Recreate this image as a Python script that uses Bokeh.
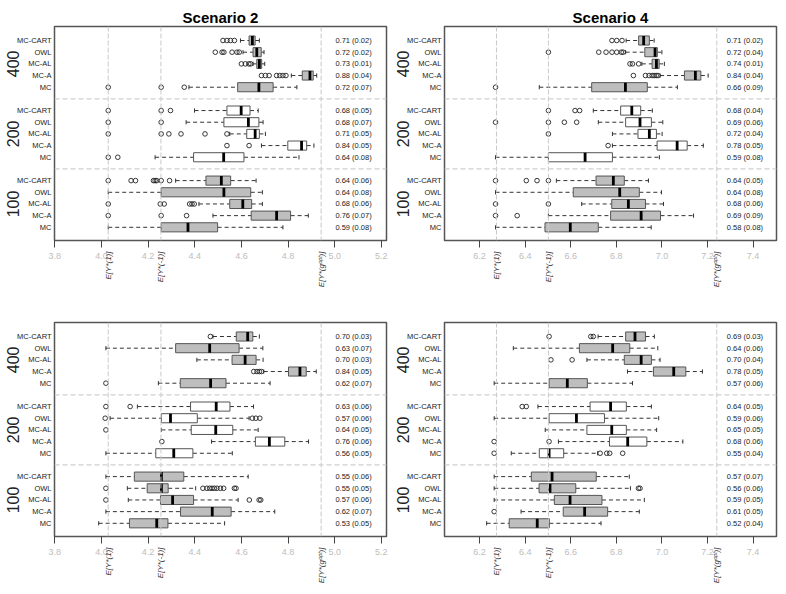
import math
from bokeh.plotting import figure
from bokeh.models import (Range1d, FixedTicker, Span, ColumnDataSource, LinearAxis,
                          PrintfTickFormatter)
from bokeh.layouts import column, row
from bokeh.embed import file_html
from bokeh.resources import INLINE
from bokeh.core.properties import value

FONT = "Liberation Sans"

methods = ["MC-CART", "OWL", "MC-AL", "MC-A", "MC"]
sizes = ["400", "200", "100"]

ticks_s2 = [3.8, 4.0, 4.2, 4.4, 4.6, 4.8, 5.0, 5.2]
ticks_s4 = [6.2, 6.4, 6.6, 6.8, 7.0, 7.2, 7.4]
ref_s2 = [4.029, 4.255, 4.942]
ref_s4 = [6.274, 6.502, 7.241]
ref_names = ["E[Y*(1)]", "E[Y*(-1)]", "E[Y*(g\u1d52\u1d56\u1d57)]"]

# ---- Scenario 2, top panel ----
s2a_lo = [4.596, 4.607, 4.650, 4.814, 4.375,
          4.399, 4.363, 4.550, 4.686, 4.230,
          4.318, 4.029, 4.418, 4.478, 4.029]
s2a_q1 = [4.633, 4.650, 4.666, 4.861, 4.584,
          4.538, 4.525, 4.623, 4.799, 4.395,
          4.448, 4.256, 4.550, 4.642, 4.256]
s2a_med = [4.647, 4.666, 4.677, 4.894, 4.675,
           4.599, 4.630, 4.659, 4.858, 4.524,
           4.514, 4.525, 4.606, 4.751, 4.371]
s2a_q3 = [4.659, 4.685, 4.687, 4.908, 4.736,
          4.637, 4.675, 4.677, 4.880, 4.611,
          4.554, 4.640, 4.644, 4.811, 4.498]
s2a_hi = [4.677, 4.697, 4.700, 4.923, 4.838,
          4.672, 4.693, 4.703, 4.911, 4.847,
          4.663, 4.690, 4.690, 4.887, 4.778]
s2a_out = [[4.521, 4.538, 4.553, 4.570],
           [4.488, 4.517, 4.525, 4.560, 4.581, 4.591],
           [4.600, 4.617, 4.632, 4.640],
           [4.686, 4.703, 4.719, 4.751, 4.765, 4.778, 4.791],
           [4.029, 4.256, 4.355],
           [4.029, 4.256, 4.296],
           [4.029, 4.256],
           [4.029, 4.256, 4.289, 4.341, 4.444, 4.538],
           [4.538, 4.633],
           [4.029, 4.070],
           [4.029, 4.127, 4.146, 4.223, 4.230, 4.237, 4.256, 4.292],
           [],
           [4.029, 4.252, 4.269, 4.378, 4.388, 4.398],
           [4.029, 4.256, 4.365],
           []]
s2a_txt = ["0.71 (0.02)", "0.72 (0.02)", "0.73 (0.01)", "0.88 (0.04)", "0.72 (0.07)",
           "0.68 (0.05)", "0.68 (0.07)", "0.71 (0.05)", "0.84 (0.05)", "0.64 (0.08)",
           "0.64 (0.06)", "0.64 (0.08)", "0.68 (0.06)", "0.76 (0.07)", "0.59 (0.08)"]

# ---- Scenario 4, top panel ----
s4a_lo = [6.843, 6.841, 6.912, 6.992, 6.462,
          6.699, 6.721, 6.783, 6.783, 6.270,
          6.537, 6.270, 6.648, 6.502, 6.270]
s4a_q1 = [6.898, 6.925, 6.957, 7.099, 6.692,
          6.819, 6.841, 6.895, 6.979, 6.502,
          6.711, 6.611, 6.780, 6.775, 6.487]
s4a_med = [6.920, 6.970, 6.976, 7.147, 6.840,
           6.868, 6.904, 6.945, 7.067, 6.663,
           6.787, 6.815, 6.853, 6.909, 6.598]
s4a_q3 = [6.945, 6.980, 6.988, 7.171, 6.936,
          6.907, 6.954, 6.976, 7.111, 6.783,
          6.835, 6.901, 6.928, 6.994, 6.721]
s4a_hi = [6.966, 7.000, 7.011, 7.203, 7.068,
          6.958, 7.004, 7.001, 7.182, 6.989,
          6.941, 6.998, 7.007, 7.139, 6.953]
s4a_out = [[6.781, 6.802, 6.825],
           [6.502, 6.723, 6.755, 6.781, 6.802, 6.822, 6.830],
           [6.860, 6.871, 6.898],
           [6.875, 6.928, 6.944, 6.957, 6.966, 6.975, 6.983],
           [6.270],
           [6.502, 6.619, 6.639],
           [6.270, 6.502, 6.572, 6.626],
           [6.502],
           [6.764],
           [],
           [6.270, 6.405, 6.452, 6.502],
           [],
           [6.270, 6.502],
           [6.270, 6.365],
           []]
s4a_txt = ["0.71 (0.02)", "0.72 (0.04)", "0.74 (0.01)", "0.84 (0.04)", "0.66 (0.09)",
           "0.68 (0.04)", "0.69 (0.06)", "0.72 (0.04)", "0.78 (0.05)", "0.59 (0.08)",
           "0.64 (0.05)", "0.64 (0.08)", "0.68 (0.06)", "0.69 (0.09)", "0.58 (0.08)"]

# ---- Scenario 2, bottom panel ----
s2b_lo = [4.478, 4.019, 4.409, 4.696, 4.244,
          4.154, 4.037, 4.257, 4.472, 4.019,
          4.019, 4.111, 4.115, 4.019, 3.988]
s2b_q1 = [4.578, 4.318, 4.560, 4.802, 4.338,
          4.382, 4.257, 4.385, 4.660, 4.233,
          4.141, 4.196, 4.253, 4.339, 4.120]
s2b_med = [4.627, 4.464, 4.616, 4.851, 4.468,
           4.492, 4.296, 4.490, 4.720, 4.310,
           4.257, 4.257, 4.305, 4.475, 4.237]
s2b_q3 = [4.649, 4.590, 4.663, 4.878, 4.534,
          4.551, 4.411, 4.563, 4.786, 4.392,
          4.353, 4.286, 4.395, 4.556, 4.285]
s2b_hi = [4.677, 4.692, 4.693, 4.921, 4.723,
          4.652, 4.633, 4.672, 4.888, 4.561,
          4.629, 4.404, 4.586, 4.743, 4.528]
s2b_out = [[4.467],
           [],
           [],
           [4.653, 4.667, 4.677, 4.686],
           [4.019],
           [4.019, 4.123],
           [4.016, 4.647, 4.662, 4.679],
           [4.019],
           [4.259],
           [],
           [],
           [4.019, 4.435, 4.452, 4.464, 4.474, 4.484, 4.495, 4.510, 4.524, 4.570, 4.577],
           [4.019, 4.634, 4.676, 4.683],
           [],
           []]
s2b_txt = ["0.70 (0.03)", "0.63 (0.07)", "0.70 (0.03)", "0.84 (0.05)", "0.62 (0.07)",
           "0.63 (0.06)", "0.57 (0.06)", "0.64 (0.05)", "0.76 (0.06)", "0.56 (0.05)",
           "0.55 (0.06)", "0.55 (0.05)", "0.57 (0.06)", "0.62 (0.07)", "0.53 (0.05)"]

# ---- Scenario 4, bottom panel ----
s4b_lo = [6.720, 6.348, 6.671, 6.849, 6.264,
          6.456, 6.264, 6.488, 6.546, 6.339,
          6.264, 6.264, 6.264, 6.382, 6.231]
s4b_q1 = [6.841, 6.638, 6.835, 6.963, 6.505,
          6.685, 6.505, 6.671, 6.770, 6.462,
          6.427, 6.461, 6.528, 6.567, 6.330]
s4b_med = [6.882, 6.784, 6.909, 7.052, 6.585,
           6.775, 6.625, 6.780, 6.850, 6.505,
           6.518, 6.509, 6.597, 6.661, 6.453]
s4b_q3 = [6.928, 6.859, 6.954, 7.105, 6.673,
          6.844, 6.748, 6.844, 6.934, 6.569,
          6.712, 6.622, 6.737, 6.762, 6.506]
s4b_hi = [6.967, 6.982, 6.992, 7.178, 6.871,
          6.954, 6.986, 6.977, 7.092, 6.718,
          6.857, 6.862, 6.923, 6.901, 6.733]
s4b_out = [[6.505, 6.688, 6.699],
           [],
           [6.513, 6.606],
           [],
           [],
           [6.387, 6.405],
           [],
           [],
           [6.264, 6.505],
           [6.264, 6.729, 6.758, 6.771, 6.828],
           [],
           [6.897, 6.904],
           [],
           [6.264],
           []]
s4b_txt = ["0.69 (0.03)", "0.64 (0.06)", "0.70 (0.04)", "0.78 (0.05)", "0.57 (0.06)",
           "0.64 (0.05)", "0.59 (0.06)", "0.65 (0.05)", "0.68 (0.06)", "0.55 (0.04)",
           "0.57 (0.07)", "0.56 (0.06)", "0.59 (0.05)", "0.61 (0.05)", "0.52 (0.04)"]

row_names = [m for s in sizes for m in methods]
row_pos = [17 - 6 * g - m for g in range(3) for m in range(5)]
row_fill = [("white" if s == "200" else "#bebebe") for s in sizes for m in methods]
group_pos = [15, 9, 3]
sep_pos = [12, 6]


def panel(title, xr, ticks, refs, lo, q1, med, q3, hi, out, txt, text_x, top, left):
    bt = 26 if top else 25
    bb = 57
    bl = 54 if left else 53
    br = 5 if left else 10
    p = figure(width=bl + 332 + br, height=bt + 214 + bb,
               x_range=Range1d(*xr), y_range=Range1d(-0.13, 18.2),
               output_backend="svg", toolbar_location=None, title=title,
               min_border_left=bl, min_border_right=br,
               min_border_top=bt, min_border_bottom=bb)
    p.background_fill_color = "white"
    p.border_fill_color = "white"
    p.outline_line_color = "#555555"
    p.outline_line_width = 1.5
    p.xgrid.visible = False
    p.ygrid.visible = False
    if title:
        p.title.align = "center"
        p.title.text_font = FONT
        p.title.text_font_size = "15px"
        p.title.text_font_style = "bold"
        p.title.text_color = "black"
        p.title.standoff = 2

    xa = p.xaxis[0]
    xa.ticker = FixedTicker(ticks=ticks)
    xa.formatter = PrintfTickFormatter(format="%.1f")
    xa.major_label_text_color = "#bdbdbd"
    xa.major_label_text_font = FONT
    xa.major_label_text_font_size = "9px"
    xa.major_tick_out = 7
    xa.major_tick_in = 0
    xa.minor_tick_out = 0
    xa.minor_tick_in = 0
    xa.major_tick_line_color = "#444444"
    xa.minor_tick_line_color = None
    xa.axis_line_color = None
    xa.major_label_standoff = 5

    # reference-value labels (rotated), pulled up next to the numeric axis
    ra = LinearAxis(ticker=FixedTicker(ticks=refs),
                    major_label_overrides={r: n for r, n in zip(refs, ref_names)},
                    major_label_orientation=math.pi / 2)
    ra.major_label_text_font = FONT
    ra.major_label_text_font_style = "italic"
    ra.major_label_text_font_size = "8px"
    ra.major_label_text_color = "#333333"
    ra.major_tick_out = 0
    ra.major_tick_in = 0
    ra.minor_tick_out = 0
    ra.minor_tick_in = 0
    ra.major_tick_line_color = None
    ra.minor_tick_line_color = None
    ra.axis_line_color = None
    ra.major_label_standoff = -10
    p.add_layout(ra, "below")

    ya = p.yaxis[0]
    ya.ticker = FixedTicker(ticks=row_pos)
    ya.major_label_overrides = {pos: name for pos, name in zip(row_pos, row_names)}
    ya.major_label_text_font = FONT
    ya.major_label_text_font_size = "7.5px"
    ya.major_label_text_color = "#222222"
    ya.major_tick_out = 0
    ya.major_tick_in = 0
    ya.minor_tick_out = 0
    ya.minor_tick_in = 0
    ya.major_tick_line_color = None
    ya.minor_tick_line_color = None
    ya.axis_line_color = None
    ya.major_label_standoff = 3

    # sample-size group labels on an outer left axis
    ga = LinearAxis(ticker=FixedTicker(ticks=group_pos),
                    major_label_overrides={g: s for g, s in zip(group_pos, sizes)},
                    major_label_orientation="parallel")
    ga.major_label_text_font = FONT
    ga.major_label_text_font_size = "16px"
    ga.major_label_text_color = "#222222"
    ga.major_tick_out = 0
    ga.major_tick_in = 0
    ga.minor_tick_out = 0
    ga.minor_tick_in = 0
    ga.major_tick_line_color = None
    ga.minor_tick_line_color = None
    ga.axis_line_color = None
    ga.major_label_standoff = -5
    p.add_layout(ga, "left")

    for r in refs:
        p.add_layout(Span(location=r, dimension="height", line_color="#c8c8c8",
                          line_dash="5 2", line_width=1))
    for s in sep_pos:
        p.add_layout(Span(location=s, dimension="width", line_color="#cfcfcf",
                          line_dash="5 3", line_width=1.3))

    src = ColumnDataSource(dict(
        y=row_pos, lo=lo, q1=q1, med=med, q3=q3, hi=hi, fill=row_fill,
        ylo=[y - 0.39 for y in row_pos], yhi=[y + 0.39 for y in row_pos],
        slo=[y - 0.18 for y in row_pos], shi=[y + 0.18 for y in row_pos]))

    p.segment(x0="lo", y0="y", x1="q1", y1="y", source=src,
              line_color="#333333", line_width=1, line_dash="4 3")
    p.segment(x0="q3", y0="y", x1="hi", y1="y", source=src,
              line_color="#333333", line_width=1, line_dash="4 3")
    p.segment(x0="lo", y0="slo", x1="lo", y1="shi", source=src,
              line_color="#333333", line_width=1)
    p.segment(x0="hi", y0="slo", x1="hi", y1="shi", source=src,
              line_color="#333333", line_width=1)
    p.hbar(y="y", left="q1", right="q3", height=0.78, source=src,
           fill_color="fill", line_color="#555555", line_width=1)
    p.segment(x0="med", y0="ylo", x1="med", y1="yhi", source=src,
              line_color="black", line_width=2.8, line_cap="butt")

    ox = [v for vals in out for v in vals]
    oy = [y for vals, y in zip(out, row_pos) for v in vals]
    p.scatter(x=ox, y=oy, marker="circle", size=4.6, fill_color=None,
              line_color="#222222", line_width=0.9)

    p.text(x=[text_x] * len(row_pos), y=row_pos, text=txt,
           text_font=value(FONT), text_font_size="7.5px", text_color="#222222",
           text_align="left", text_baseline="middle")
    return p


xr_s2 = (3.7986, 5.2222)
xr_s4 = (6.046, 7.503)

p1 = panel("Scenario 2", xr_s2, ticks_s2, ref_s2, s2a_lo, s2a_q1, s2a_med, s2a_q3,
           s2a_hi, s2a_out, s2a_txt, 5.003, True, True)
p2 = panel("Scenario 4", xr_s4, ticks_s4, ref_s4, s4a_lo, s4a_q1, s4a_med, s4a_q3,
           s4a_hi, s4a_out, s4a_txt, 7.285, True, False)
p3 = panel(None, xr_s2, ticks_s2, ref_s2, s2b_lo, s2b_q1, s2b_med, s2b_q3,
           s2b_hi, s2b_out, s2b_txt, 5.003, False, True)
p4 = panel(None, xr_s4, ticks_s4, ref_s4, s4b_lo, s4b_q1, s4b_med, s4b_q3,
           s4b_hi, s4b_out, s4b_txt, 7.285, False, False)

layout = column(row(p1, p2), row(p3, p4))
open("out.html", "w").write(file_html(layout, INLINE))
